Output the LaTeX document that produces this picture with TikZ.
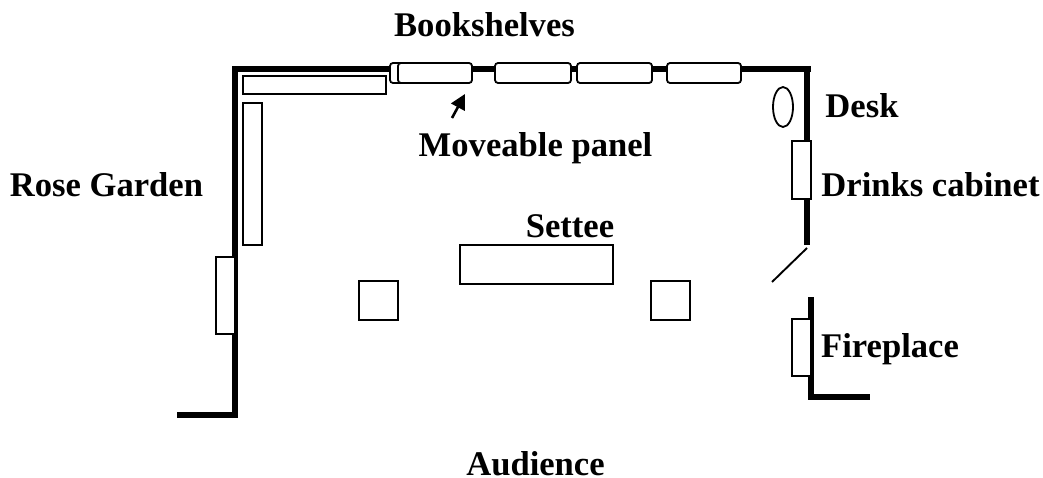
\documentclass[tikz,border=0pt]{standalone}
\usepackage{fontspec}
\setmainfont{Liberation Serif}
\usetikzlibrary{arrows.meta}
\tikzset{
  wall/.style={line width=6.5pt,line cap=butt,line join=miter},
  thinwall/.style={line width=6pt},
  furn/.style={draw,line width=1.8pt,fill=white},
  shelf/.style={draw,line width=1.8pt,fill=white,rounded corners=3pt},
  lab/.style={font=\fontsize{34.6}{38}\selectfont\bfseries,inner sep=0pt,anchor=base}
}
\begin{document}
\begin{tikzpicture}[x=1pt,y=-1pt]
\useasboundingbox (0,0) rectangle (1043,478);
% walls
\draw[wall] (177,415) -- (235,415) (235,418) -- (235,69) -- (811,69) (807,66) -- (807,245);
\draw[thinwall] (811,297) -- (811,397) (808,397) -- (870,397);
\coordinate (doorA) at (807,248);
\coordinate (doorB) at (772,282);
\draw[line width=1.9pt] (doorA) -- (doorB);
% furniture
\draw[furn] (243,76) rectangle (386,94);
\draw[furn] (243,103) rectangle (262,245);
\draw[furn] (216,257) rectangle (235,334);
\draw[furn] (792,141) rectangle (811,199);
\draw[furn] (792,319) rectangle (811,376);
\draw[furn] (460,245) rectangle (613,284);
\draw[furn] (359,281) rectangle (398,320);
\draw[furn] (651,281) rectangle (690,320);
\draw[furn] (783,107) ellipse (10 and 20);
% bookshelves
\draw[shelf] (390,63) rectangle (420,83);
\draw[shelf] (398,63) rectangle (472,83);
\draw[shelf] (495,63) rectangle (571,83);
\draw[shelf] (577,63) rectangle (652,83);
\draw[shelf] (667,63) rectangle (741,83);
% arrow
\coordinate (arrA) at (452,118);
\coordinate (arrB) at (465,94);
\draw[line width=2.6pt,-{Triangle[length=15pt,width=15pt]}] (arrA) -- (arrB);
% labels
\node[lab] (bookshelves) at (484.5,37) {Bookshelves};
\node[lab] (panel) at (535.5,157) {Moveable panel};
\node[lab] (desk) at (862,118) {Desk};
\node[lab] (rose) at (106.5,197) {Rose Garden};
\node[lab] (settee) at (570,237) {Settee};
\node[lab] (drinks) at (930.5,197) {Drinks cabinet};
\node[lab] (fire) at (890,357) {Fireplace};
\node[lab] (aud) at (535.5,475) {Audience};
\end{tikzpicture}
\end{document}
